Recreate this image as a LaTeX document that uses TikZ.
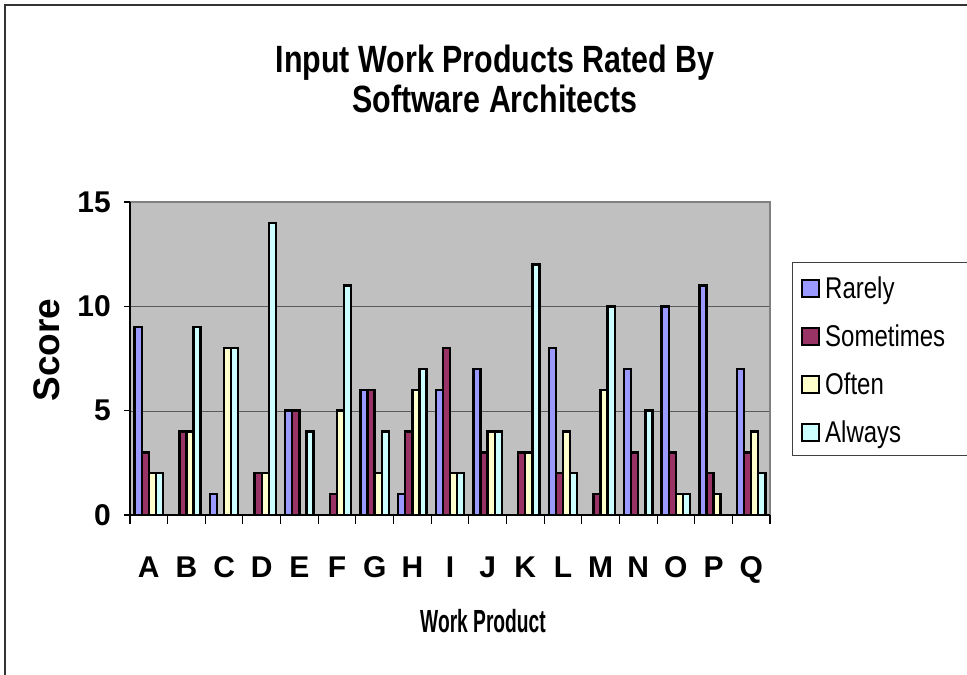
\documentclass[tikz,border=0pt]{standalone}
\usepackage{fontspec}
\setmainfont{Liberation Sans}
\newfontfamily\narrowfont{Liberation Sans}[FakeStretch=0.8]
\newfontfamily\tightfont{Liberation Sans}[FakeStretch=0.6]
\definecolor{rarely}{HTML}{9999FF}
\definecolor{sometimes}{HTML}{993366}
\definecolor{often}{HTML}{FFFFCC}
\definecolor{always}{HTML}{CCFFFF}
\definecolor{plotbg}{HTML}{C0C0C0}
\definecolor{gridc}{HTML}{5A5A5A}
\definecolor{edgec}{HTML}{808080}
\tikzset{
  bar/.style={draw=black, line width=2.4pt},
  boldlbl/.style={font=\bfseries\fontsize{30}{34}\selectfont, inner sep=0pt},
  axislbl/.style={font=\bfseries\fontsize{37}{40}\selectfont, inner sep=0pt},
  xaxislbl/.style={font=\tightfont\bfseries\fontsize{32}{36}\selectfont, inner sep=0pt},
  titlelbl/.style={font=\narrowfont\bfseries\fontsize{38}{40}\selectfont, inner sep=0pt},
  keylbl/.style={font=\narrowfont\fontsize{30}{34}\selectfont, inner sep=0pt, anchor=base west},
  swatch/.style={draw=black, line width=2pt, minimum size=17pt, inner sep=0pt},
}
\begin{document}
\begin{tikzpicture}[x=1pt,y=-1pt]
\useasboundingbox (0,0) rectangle (967,675);
% outer chart frame
\draw[color=black!80, line width=1.5pt] (5,675) -- (5,5) -- (975,5);

% plot area
\fill[plotbg] (130,202) rectangle (770,515);
\draw[gridc, line width=1.3pt] (130,411.7) -- (770,411.7);
\draw[gridc, line width=1.3pt] (130,306.7) -- (770,306.7);
\draw[edgec, line width=2.5pt] (130,202) -- (770,202) -- (770,515);

% bars: category / rarely / sometimes / often / always
\def\unit{20.867}
\def\catw{37.647}
\def\bw{7.1}
\foreach \lab/\ra/\so/\of/\al [count=\i from 0] in {
  A/9/3/2/2, B/0/4/4/9, C/1/0/8/8, D/0/2/2/14, E/5/5/0/4, F/0/1/5/11,
  G/6/6/2/4, H/1/4/6/7, I/6/8/2/2, J/7/3/4/4, K/0/3/3/12, L/8/2/4/2,
  M/0/1/6/10, N/7/3/0/5, O/10/3/1/1, P/11/2/1/0, Q/7/3/4/2} {
  \pgfmathsetmacro{\xl}{130+\catw*\i+4.6}
  \foreach \v/\c [count=\k from 0] in {\ra/rarely,\so/sometimes,\of/often,\al/always} {
    \ifnum\v>0
      \pgfmathsetmacro{\xa}{\xl+\bw*\k}
      \pgfmathsetmacro{\xb}{\xa+\bw}
      \pgfmathsetmacro{\yt}{515-\unit*\v}
      \draw[bar, fill=\c] (\xa,515) rectangle (\xb,\yt);
    \fi
  }
  \pgfmathsetmacro{\xc}{130+\catw*\i+\catw/2}
  \node[boldlbl, anchor=base] (cat\lab) at (\xc,577) {\lab};
}

% axes and tick marks
\draw[black, line width=1.3pt] (130,202) -- (130,515) -- (770,515);
\foreach \t in {0,5,10,15} {
  \pgfmathsetmacro{\yy}{515-\unit*\t}
  \draw[black, line width=1.3pt] (124,\yy) -- (130,\yy);
  \node[boldlbl, anchor=east] (tick\t) at (111,\yy) {\t};
}
\foreach \i in {0,...,17} {
  \pgfmathsetmacro{\xx}{130+\catw*\i}
  \draw[black, line width=1.1pt] (\xx,515) -- (\xx,524);
}

% titles
\node[titlelbl, anchor=base] (title1) at (495,72) {Input Work Products Rated By};
\node[titlelbl, anchor=base] (title2) at (495,112) {Software Architects};
\node[axislbl, rotate=90] (ytitle) at (47,350) {Score};
\node[xaxislbl] (xtitle) at (483,621) {Work Product};

% legend
\draw[black!75, line width=1pt, fill=white] (792,262) rectangle (975,455);
\foreach \name/\c/\yy in {Rarely/rarely/288, Sometimes/sometimes/336, Often/often/384, Always/always/432} {
  \node[swatch, fill=\c] (key\name) at (810,\yy) {};
  \node[keylbl] (lbl\name) at (825,\yy+10.5) {\name};
}
\end{tikzpicture}
\end{document}
